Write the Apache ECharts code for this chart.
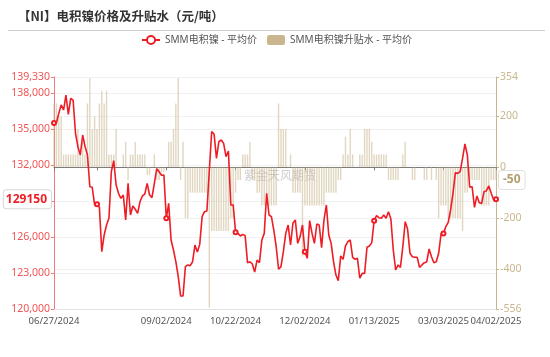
<!DOCTYPE html>
<html>
<head>
<meta charset="utf-8">
<script src="https://cdn.jsdelivr.net/npm/echarts@6/dist/echarts.min.js"></script>
<style>html,body{margin:0;padding:0;background:#fff}#c{width:550px;height:357px}</style>
</head>
<body>
<div id="c"></div>
<script>
const titleText = '【NI】电积镍价格及升贴水（元/吨）';
const seriesNames = ['SMM电积镍 - 平均价', 'SMM电积镍升贴水 - 平均价'];
const watermarkText = '紫金天风期货';

const dates = [
'06/27/2024','06/28/2024',
'07/01/2024','07/02/2024','07/03/2024','07/04/2024','07/05/2024','07/08/2024','07/09/2024','07/10/2024','07/11/2024','07/12/2024',
'07/15/2024','07/16/2024','07/17/2024','07/18/2024','07/19/2024','07/22/2024','07/23/2024','07/24/2024','07/25/2024','07/26/2024',
'07/29/2024','07/30/2024','07/31/2024',
'08/01/2024','08/02/2024','08/05/2024','08/06/2024','08/07/2024','08/08/2024','08/09/2024','08/12/2024','08/13/2024','08/14/2024',
'08/15/2024','08/16/2024','08/19/2024','08/20/2024','08/21/2024','08/22/2024','08/23/2024','08/26/2024','08/27/2024','08/28/2024',
'08/29/2024','08/30/2024',
'09/02/2024','09/03/2024','09/04/2024','09/05/2024','09/06/2024','09/09/2024','09/10/2024','09/11/2024','09/12/2024','09/13/2024',
'09/18/2024','09/19/2024','09/20/2024','09/23/2024','09/24/2024','09/25/2024','09/26/2024','09/27/2024','09/30/2024',
'10/08/2024','10/09/2024','10/10/2024','10/11/2024','10/14/2024','10/15/2024','10/16/2024','10/17/2024','10/18/2024','10/21/2024',
'10/22/2024','10/23/2024','10/24/2024','10/25/2024','10/28/2024','10/29/2024','10/30/2024','10/31/2024',
'11/01/2024','11/04/2024','11/05/2024','11/06/2024','11/07/2024','11/08/2024','11/11/2024','11/12/2024','11/13/2024','11/14/2024',
'11/15/2024','11/18/2024','11/19/2024','11/20/2024','11/21/2024','11/22/2024','11/25/2024','11/26/2024','11/27/2024','11/28/2024','11/29/2024',
'12/02/2024','12/03/2024','12/04/2024','12/05/2024','12/06/2024','12/09/2024','12/10/2024','12/11/2024','12/12/2024','12/13/2024',
'12/16/2024','12/17/2024','12/18/2024','12/19/2024','12/20/2024','12/23/2024','12/24/2024','12/25/2024','12/26/2024','12/27/2024',
'12/30/2024','12/31/2024',
'01/02/2025','01/03/2025','01/06/2025','01/07/2025','01/08/2025','01/09/2025','01/10/2025','01/13/2025','01/14/2025','01/15/2025',
'01/16/2025','01/17/2025','01/20/2025','01/21/2025','01/22/2025','01/23/2025','01/24/2025','01/27/2025',
'02/05/2025','02/06/2025','02/07/2025','02/10/2025','02/11/2025','02/12/2025','02/13/2025','02/14/2025','02/17/2025','02/18/2025',
'02/19/2025','02/20/2025','02/21/2025','02/24/2025','02/25/2025','02/26/2025','02/27/2025','02/28/2025',
'03/03/2025','03/04/2025','03/05/2025','03/06/2025','03/07/2025','03/10/2025','03/11/2025','03/12/2025','03/13/2025','03/14/2025',
'03/17/2025','03/18/2025','03/19/2025','03/20/2025','03/21/2025','03/24/2025','03/25/2025','03/26/2025','03/27/2025','03/28/2025',
'03/31/2025','04/01/2025','04/02/2025'
];

const priceValues = [
135500,135500,136300,137000,136580,137830,136220,137550,137410,134640,
133530,132830,134500,133530,132830,130190,130140,128670,128720,128470,
124780,126170,127000,127560,131440,132360,130330,129640,129220,129500,
127420,130470,127830,128580,128310,127970,128940,129420,129580,130470,
129500,129280,130470,131690,131440,131140,131170,127560,128810,125750,
124920,123940,122690,121080,121080,123530,123670,123610,123940,125330,
124740,125400,127690,128110,128170,131500,134780,134580,132550,133940,
134080,133800,132690,133160,128670,128670,126390,126300,126080,126220,
126110,123860,123940,123750,123080,124080,123860,125750,126300,129640,
127830,127690,126580,125190,123310,123530,124780,126300,127000,125330,
127140,127420,125470,126030,127000,124780,124220,127360,126300,125470,
127080,127000,125110,127420,128670,126170,125470,123940,122830,122360,
124430,124130,125250,125610,125750,124310,124140,124220,122560,122970,
122970,125140,125250,125530,127360,127780,127610,127560,127830,127560,
128110,127500,124920,123250,123670,123470,125190,127280,126640,124640,
124360,124310,124310,123470,123670,123860,123920,125000,124360,123860,
123940,124640,126250,126300,126860,127220,128250,129640,131360,131300,
131440,132550,133750,132830,130140,130190,128470,129420,128860,128800,
129780,129860,130250,129640,129080,129150
];

const spreadValues = [
250,250,200,200,50,50,50,50,50,50,
150,50,100,50,250,350,150,200,150,250,
300,250,300,50,50,50,150,0,0,50,
100,-50,50,50,100,50,50,50,50,-30,
-30,0,50,-50,-50,-20,-20,0,100,100,
150,250,350,-50,100,-200,-200,-100,-100,-100,
-100,-100,-100,-100,-100,-550,-250,-250,-250,-250,
-250,-250,-250,-250,-200,-200,-100,-50,-50,50,
50,50,100,-50,-50,-100,-100,-150,-150,-150,
-150,-150,-150,-150,250,150,150,150,0,50,
-100,-100,-100,-100,-350,-150,-150,-150,-150,-150,
-150,-150,-150,-150,-100,-100,-100,-100,-100,-50,
-50,50,120,50,150,50,0,0,50,50,
150,150,150,100,50,50,50,50,50,50,
-50,-50,-50,-50,-50,0,50,100,0,0,
-50,-50,0,0,0,-50,-50,0,-50,0,
-50,-200,-150,-150,-150,-200,-200,-200,-200,-200,
-200,-250,-100,-100,-50,-50,-50,-50,-50,-150,
-150,-150,-150,-50,-50,-50
];

// category indices that carry an x tick (label hidden at index 18)
const labelIndices = [0, 18, 47, 76, 105, 134, 163, 185];
const hiddenLabelIndices = [18];

const priceAxisRange = [120000, 139330];
const spreadAxisRange = [-556, 354];
const lastPrice = 129150;
const lastSpread = -50;

const RED = '#ee1d25';
const RED_AXIS = '#f07a7a';
const TAN = '#c9b68e';
const FONT = "'Noto Sans', 'Noto Sans CJK SC', sans-serif";

const tickFn = (idx) => labelIndices.indexOf(idx) >= 0;

const chart = echarts.init(document.getElementById('c'), null, {renderer: 'canvas'});
chart.setOption({
  animation: false,
  textStyle: {fontFamily: FONT},
  title: {
    text: titleText, left: 13, top: 5,
    textStyle: {fontSize: 12.5, fontWeight: 'bold', color: '#333', fontFamily: "'Noto Sans CJK SC', sans-serif"}
  },
  graphic: [
    {type: 'line', shape: {x1: 8, y1: 30.5, x2: 545, y2: 30.5}, style: {stroke: '#cfcfcf', lineWidth: 1}, silent: true},
    {type: 'text', left: 244, top: 169, z: 0, style: {text: watermarkText, fill: '#cfcfcf', font: "12px 'Noto Sans CJK SC'"}, silent: true}
  ],
  legend: {
    left: 136, top: 30, itemWidth: 18, itemHeight: 10, itemGap: 10,
    textStyle: {fontSize: 10, color: '#555', fontFamily: FONT},
    data: [
      {name: seriesNames[0]},
      {name: seriesNames[1], itemStyle: {opacity: 1, color: TAN}}
    ]
  },
  grid: {left: 54, right: 54, top: 77, bottom: 48},
  xAxis: [
    {
      type: 'category', data: dates, boundaryGap: false, position: 'bottom',
      axisLine: {onZero: false, lineStyle: {color: '#e3e3e3'}},
      axisTick: {show: false},
      splitLine: {show: false},
      axisLabel: {
        interval: tickFn, color: '#555', fontSize: 9.6, margin: 7,
        showMinLabel: true, showMaxLabel: true, hideOverlap: false,
        formatter: (v, idx) => hiddenLabelIndices.indexOf(idx) >= 0 ? '' : v
      }
    },
    {
      type: 'category', data: dates, boundaryGap: false, position: 'bottom',
      axisLine: {onZero: true, onZeroAxisIndex: 1, lineStyle: {color: '#777'}},
      axisTick: {show: true, interval: tickFn, length: 3, lineStyle: {color: '#777'}},
      axisLabel: {show: false},
      splitLine: {show: false}
    }
  ],
  yAxis: [
    {
      type: 'value', position: 'left', min: priceAxisRange[0], max: priceAxisRange[1], splitNumber: 5,
      axisLine: {show: true, lineStyle: {color: RED_AXIS}},
      axisTick: {show: true, length: 3, lineStyle: {color: RED_AXIS}},
      axisLabel: {color: '#f05555', fontSize: 10.5, margin: 4, showMinLabel: true, showMaxLabel: true},
      splitLine: {lineStyle: {color: '#f1f1f1'}},
      axisPointer: {
        show: true, type: 'line', value: lastPrice, status: 'show', snap: false,
        triggerTooltip: false, lineStyle: {opacity: 0},
        label: {
          show: true, formatter: (p) => String(Math.round(p.value)),
          color: RED, fontWeight: 'bold', fontSize: 12, backgroundColor: '#fff',
          borderColor: '#d8d8d8', borderWidth: 1, padding: [3, 4, 3, 2], margin: 3, fontFamily: FONT
        }
      }
    },
    {
      type: 'value', position: 'right', min: spreadAxisRange[0], max: spreadAxisRange[1], splitNumber: 5,
      axisLine: {show: true, lineStyle: {color: TAN}},
      axisTick: {show: true, length: 3, lineStyle: {color: TAN}},
      axisLabel: {color: TAN, fontSize: 10.5, margin: 4, showMinLabel: true, showMaxLabel: true},
      splitLine: {lineStyle: {color: '#f1f1f1'}},
      axisPointer: {
        show: true, type: 'line', value: lastSpread, status: 'show', snap: false,
        triggerTooltip: false, lineStyle: {opacity: 0},
        label: {
          show: true, formatter: (p) => String(Math.round(p.value)),
          color: '#b39e70', fontWeight: 'bold', fontSize: 12, backgroundColor: '#fff',
          borderColor: '#e0e0e0', borderWidth: 1, padding: [3, 4, 3, 4], margin: 3, fontFamily: FONT
        }
      }
    }
  ],
  series: [
    {
      name: seriesNames[0], type: 'line', xAxisIndex: 0, yAxisIndex: 0, data: priceValues,
      symbol: 'emptyCircle', symbolSize: 4, showAllSymbol: 'auto',
      lineStyle: {color: RED, width: 1.6}, itemStyle: {color: RED, borderWidth: 1}, z: 5
    },
    {
      name: seriesNames[1], type: 'bar', xAxisIndex: 0, yAxisIndex: 1, data: spreadValues,
      barWidth: 1.4, itemStyle: {color: TAN, opacity: 0.55}, z: 2
    }
  ]
});
</script>
</body>
</html>
